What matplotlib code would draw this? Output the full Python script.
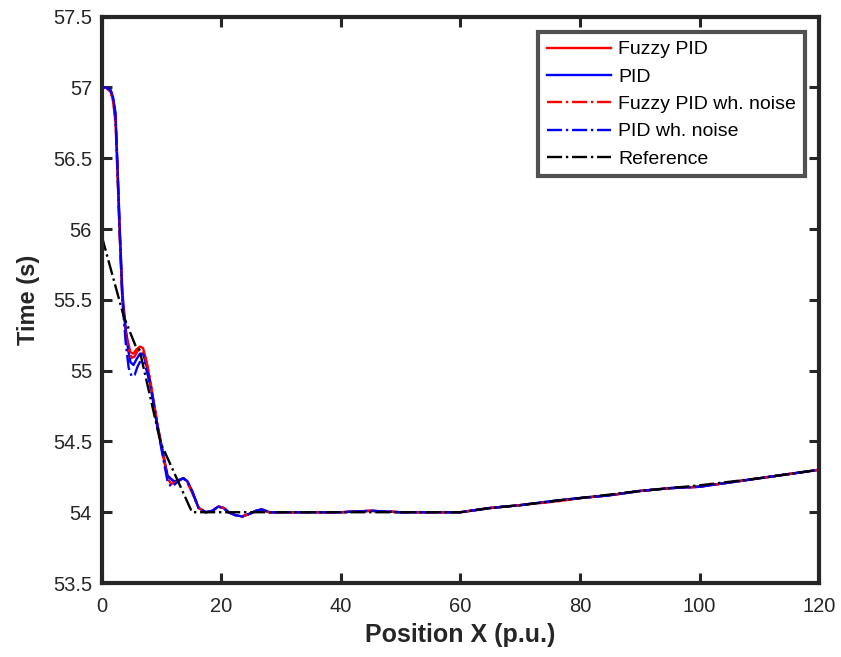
import matplotlib.pyplot as plt

# pyright: reportUnknownMemberType=false

plt.rcParams["font.family"] = ["Liberation Sans", "DejaVu Sans"]

# values
pid_x = [0, 0.7, 1.5, 1.9, 2.3, 2.6, 3.0, 3.45, 4.0, 4.4, 4.8, 5.3, 5.8, 6.4, 6.9,
         7.4, 7.9, 8.6, 9.3, 10.1, 11.0, 12.0, 12.8, 13.6, 14.3, 15.1, 16.2, 17.4,
         18.5, 19.5, 20.4, 21.2, 22.3, 23.5, 24.8, 25.8, 26.8, 28, 29, 35, 40, 45,
         50, 55, 60, 65, 70, 76.6, 80, 85, 90, 95, 100, 105, 110, 115, 120]
pid_y = [57.0, 57.0, 56.98, 56.93, 56.82, 56.49, 56.02, 55.55, 55.3, 55.15, 55.06,
         55.04, 55.08, 55.12, 55.12, 55.05, 54.95, 54.8, 54.62, 54.45, 54.26, 54.22,
         54.22, 54.24, 54.22, 54.15, 54.03, 54.0, 54.01, 54.04, 54.03, 54.0, 53.98,
         53.97, 53.99, 54.01, 54.02, 54.0, 54.0, 54.0, 54.0, 54.01, 54.0, 54.0, 54.0,
         54.03, 54.05, 54.085, 54.1, 54.12, 54.15, 54.17, 54.18, 54.21, 54.24, 54.27,
         54.3]

fuzzy_x = [0, 0.7, 1.5, 1.9, 2.3, 2.6, 3.0, 3.45, 4.0, 4.4, 4.8, 5.3, 5.8, 6.4, 6.9,
           7.4, 7.9, 8.6, 9.3, 10.1, 11.0, 12.0, 12.8, 13.6, 14.3, 15.1, 16.2, 17.4,
           18.5, 19.5, 20.4, 21.2, 22.3, 23.5, 24.8, 25.8, 26.8, 28, 29, 35, 40, 45,
           50, 55, 60, 65, 70, 76.6, 80, 85, 90, 95, 100, 105, 110, 115, 120]
fuzzy_y = [57.0, 57.0, 56.97, 56.9, 56.75, 56.42, 55.95, 55.5, 55.28, 55.2, 55.13,
           55.12, 55.15, 55.17, 55.16, 55.08, 54.97, 54.8, 54.62, 54.44, 54.25, 54.22,
           54.22, 54.24, 54.22, 54.15, 54.03, 54.0, 54.01, 54.04, 54.03, 54.0, 53.98,
           53.97, 53.99, 54.01, 54.02, 54.0, 54.0, 54.0, 54.0, 54.01, 54.0, 54.0, 54.0,
           54.03, 54.05, 54.08, 54.1, 54.12, 54.15, 54.17, 54.18, 54.21, 54.24, 54.27,
           54.3]

fuzzy_noise_x = [0, 0.7, 1.5, 1.9, 2.3, 2.6, 3.0, 3.45, 4.0, 4.5, 5.0, 5.5, 6.0, 6.5,
                 7.0, 7.5, 8.0, 8.6, 9.3, 10.1, 11.0, 11.6, 12.3, 13.0, 13.7, 14.4,
                 15.1, 16.2, 17.4, 18.5, 19.5, 20.4, 21.2, 22.3, 23.5, 24.8, 25.8,
                 26.8, 28, 29, 35, 40, 45, 50, 55, 60, 65, 70, 76.6, 80, 85, 90, 95,
                 100, 105, 110, 115, 120]
fuzzy_noise_y = [57.0, 57.0, 56.97, 56.91, 56.78, 56.45, 55.98, 55.52, 55.25, 55.15,
                 55.09, 55.1, 55.14, 55.15, 55.13, 55.06, 54.96, 54.8, 54.62, 54.44,
                 54.24, 54.2, 54.21, 54.23, 54.24, 54.2, 54.14, 54.03, 54.0, 54.01,
                 54.04, 54.03, 54.0, 53.98, 53.97, 53.99, 54.01, 54.02, 54.0, 54.0,
                 54.0, 54.0, 54.01, 54.0, 54.0, 54.0, 54.03, 54.05, 54.08, 54.1, 54.12,
                 54.15, 54.17, 54.18, 54.21, 54.24, 54.27, 54.3]

pid_noise_x = [0, 0.7, 1.5, 1.9, 2.3, 2.6, 3.0, 3.45, 4.0, 4.5, 5.0, 5.5, 6.0, 6.5,
               7.0, 7.5, 8.0, 8.6, 9.3, 10.1, 11.0, 11.6, 12.3, 13.0, 13.7, 14.4,
               15.1, 16.2, 17.4, 18.5, 19.5, 20.4, 21.2, 22.3, 23.5, 24.8, 25.8, 26.8,
               28, 29, 35, 40, 45, 50, 55, 60, 65, 70, 76.6, 80, 85, 90, 95, 100, 105,
               110, 115, 120]
pid_noise_y = [57.0, 57.0, 56.98, 56.92, 56.8, 56.46, 55.98, 55.5, 55.2, 55.02,
               54.96, 54.97, 55.03, 55.07, 55.06, 55.0, 54.92, 54.78, 54.6, 54.42,
               54.22, 54.18, 54.2, 54.23, 54.24, 54.21, 54.15, 54.03, 54.0, 54.01,
               54.04, 54.03, 54.0, 53.98, 53.97, 53.99, 54.01, 54.02, 54.0, 54.0, 54.0,
               54.0, 54.01, 54.0, 54.0, 54.0, 54.03, 54.05, 54.085, 54.1, 54.12, 54.15,
               54.17, 54.18, 54.21, 54.24, 54.27, 54.3]

ref_x = [0, 3.7, 5.7, 6.3, 9.85, 15.1, 60, 65, 70, 76.6, 80, 90, 100, 110, 120]
ref_y = [55.95, 55.38, 55.17, 55.15, 54.49, 54.0, 54.0, 54.03, 54.05, 54.085, 54.1,
         54.15, 54.19, 54.24, 54.3]

x_ticks = [0, 20, 40, 60, 80, 100, 120]
y_ticks = [53.5, 54, 54.5, 55, 55.5, 56, 56.5, 57, 57.5]


fig = plt.figure(figsize=(8.41, 6.57), dpi=100)
ax = fig.add_axes((0.121, 0.1126, 0.853, 0.862))

_ = ax.plot(fuzzy_x, fuzzy_y, color="red", linewidth=1.7, label="Fuzzy PID")
_ = ax.plot(pid_x, pid_y, color="blue", linewidth=1.7, label="PID")
_ = ax.plot(fuzzy_noise_x, fuzzy_noise_y, color="red", linestyle="-.",
            linewidth=1.7, label="Fuzzy PID wh. noise")
_ = ax.plot(pid_noise_x, pid_noise_y, color="blue", linestyle="-.",
            linewidth=1.7, label="PID wh. noise")
_ = ax.plot(ref_x, ref_y, color="black", linestyle="-.", linewidth=1.7,
            label="Reference")

_ = ax.set_xlim(0, 120)
_ = ax.set_ylim(53.5, 57.5)
_ = ax.set_xticks(x_ticks)
_ = ax.set_yticks(y_ticks)
_ = ax.set_yticklabels([f"{v:g}" for v in y_ticks])
ax.tick_params(direction="in", length=7, width=2.2, labelsize=14.5,
               colors="#262626", top=True, right=True)
ax.tick_params(axis="x", pad=10)
ax.tick_params(axis="y", pad=7)
for spine in ax.spines.values():
    spine.set_linewidth(3)
    spine.set_color("#262626")

_ = ax.set_xlabel("Position X (p.u.)", fontsize=18, fontweight="bold",
                  color="#262626", labelpad=5)
_ = ax.set_ylabel("Time (s)", fontsize=17, fontweight="bold",
                  color="#262626", labelpad=9)

leg = ax.legend(loc="upper right", bbox_to_anchor=(0.98, 0.973), fontsize=14,
                frameon=True, fancybox=False, handlelength=3.3, labelspacing=0.5,
                handletextpad=0.35, borderpad=0.45, borderaxespad=0)
leg.get_frame().set_edgecolor("#262626")
leg.get_frame().set_linewidth(3)

plt.savefig("out.png", dpi=100)
